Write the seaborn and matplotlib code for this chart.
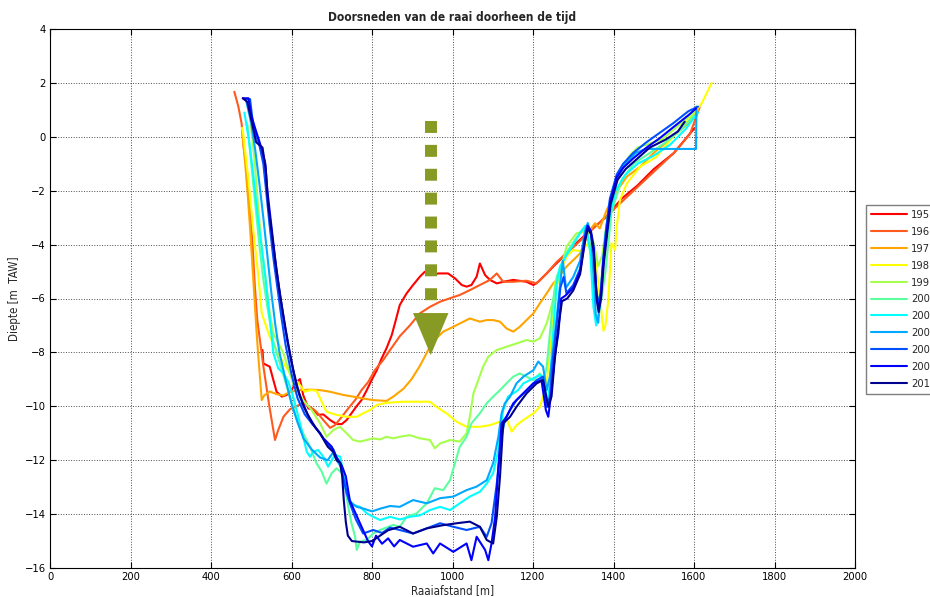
import numpy as np
import pandas as pd
import matplotlib
matplotlib.use("Agg")
import matplotlib.pyplot as plt
import seaborn as sns

# dwarsprofielen (afstand [m], diepte [m TAW])
p195 = [(528,-7.91),(530,-8.41),(546,-8.53),(555,-9.03),(563,-9.46),(576,-9.64),(588,-9.58),(600,-9.40),(612,-9.1),(621,-8.99),
        (629,-9.58),(642,-10.08),(654,-10.11),(666,-10.32),(679,-10.30),(696,-10.51),(712,-10.66),(725,-10.66),(737,-10.51),(749,-10.26),
        (762,-9.99),(774,-9.77),(787,-9.40),(799,-9.03),(812,-8.66),(824,-8.22),(836,-7.85),(849,-7.36),(857,-6.92),(869,-6.24),
        (886,-5.81),(902,-5.50),(919,-5.19),(931,-5.01),(948,-5.13),(965,-5.07),(989,-5.07),(1006,-5.25),(1023,-5.50),(1035,-5.56),
        (1047,-5.50),(1060,-5.19),(1068,-4.70),(1081,-5.13),(1093,-5.31),(1110,-5.44),(1126,-5.38),(1151,-5.31),(1184,-5.38),(1201,-5.50),
        (1213,-5.38),(1234,-5.07),(1254,-4.76),(1267,-4.57),(1300,-4.05),(1340,-3.5),(1380,-3.0),(1420,-2.3),(1460,-1.8),(1500,-1.2),
        (1550,-0.6),(1600,0.3)]
p196 = [(458,1.67),(468,1.12),(476,0.5),(481,-0.37),(490,-1.36),(497,-2.59),(501,-3.46),(505,-4.45),(509,-5.56),(515,-6.8),
        (530,-8.5),(545,-10.0),(559,-11.25),(567,-10.88),(580,-10.39),(596,-10.11),(613,-9.99),(629,-9.89),(646,-10.02),(662,-10.2),
        (679,-10.51),(696,-10.8),(708,-10.7),(725,-10.39),(741,-10.08),(758,-9.77),(774,-9.4),(791,-9.09),(807,-8.66),(828,-8.28),
        (845,-7.91),(869,-7.4),(894,-7.0),(919,-6.55),(944,-6.31),(969,-6.12),(994,-5.99),(1018,-5.87),(1043,-5.69),(1068,-5.5),
        (1093,-5.31),(1110,-5.07),(1126,-5.38),(1151,-5.38),(1184,-5.34),(1209,-5.44),(1234,-5.07),(1259,-4.64),(1300,-4.1),(1350,-3.4),
        (1400,-2.7),(1450,-2.0),(1500,-1.3),(1550,-0.6),(1590,0.1),(1614,1.1)]
p197 = [(478,0.1),(485,-1.0),(492,-2.3),(498,-3.6),(503,-4.8),(508,-6.0),(513,-7.2),(517,-8.03),(522,-9.0),(526,-9.77),
        (532,-9.6),(546,-9.45),(563,-9.55),(580,-9.6),(596,-9.46),(621,-9.4),(646,-9.38),(671,-9.4),(696,-9.46),(729,-9.58),
        (753,-9.64),(778,-9.71),(803,-9.77),(836,-9.8),(853,-9.64),(878,-9.35),(898,-9.0),(919,-8.5),(944,-7.79),(960,-7.48),
        (977,-7.23),(1002,-7.05),(1027,-6.86),(1043,-6.74),(1068,-6.86),(1085,-6.8),(1101,-6.8),(1118,-6.86),(1134,-7.11),(1151,-7.23),
        (1167,-7.05),(1184,-6.8),(1201,-6.55),(1217,-6.18),(1234,-5.81),(1250,-5.44),(1259,-5.31),(1283,-4.82),(1317,-4.33),(1341,-3.46),
        (1354,-3.21),(1366,-3.4),(1383,-2.72),(1399,-2.22),(1433,-1.48),(1466,-1.11),(1499,-0.61),(1548,0.01),(1586,0.5),(1610,1.0)]
p198 = [(477,0.33),(480,0.13),(493,-1.6),(505,-3.46),(517,-5.07),(526,-6.55),(534,-6.9),(546,-7.42),(571,-8.16),(596,-8.78),
        (621,-9.21),(633,-9.46),(646,-9.4),(662,-9.42),(675,-9.83),(687,-10.2),(712,-10.32),(737,-10.39),(762,-10.39),(778,-10.26),
        (795,-10.14),(812,-9.95),(836,-9.87),(878,-9.83),(919,-9.83),(944,-9.83),(960,-10.02),(985,-10.26),(1010,-10.57),(1035,-10.76),
        (1068,-10.76),(1093,-10.7),(1118,-10.57),(1134,-10.45),(1147,-10.94),(1159,-10.7),(1176,-10.51),(1201,-10.26),(1217,-10.02),(1225,-9.64),
        (1234,-9.15),(1242,-7.91),(1250,-6.68),(1254,-5.44),(1259,-5.31),(1283,-4.45),(1300,-4.2),(1320,-4.25),(1340,-3.9),(1355,-4.5),
        (1365,-5.8),(1375,-7.2),(1380,-7.0),(1387,-6.06),(1395,-3.95),(1404,-4.2),(1408,-3.34),(1416,-2.35),(1433,-1.73),(1466,-1.11),
        (1507,-0.74),(1548,0.01),(1586,0.62),(1619,1.24),(1644,2.0)]
p199 = [(497,0.75),(509,-0.98),(517,-2.59),(526,-4.08),(538,-5.56),(546,-6.55),(555,-7.3),(580,-8.03),(604,-9.15),(629,-9.77),
        (650,-10.14),(671,-10.63),(687,-11.13),(704,-10.88),(720,-10.76),(737,-11.0),(753,-11.25),(770,-11.31),(787,-11.25),(803,-11.19),
        (820,-11.23),(836,-11.13),(853,-11.19),(869,-11.13),(894,-11.07),(919,-11.19),(944,-11.25),(956,-11.56),(969,-11.38),(994,-11.25),
        (1018,-11.31),(1035,-11.0),(1043,-10.39),(1052,-9.52),(1064,-9.03),(1076,-8.53),(1089,-8.16),(1110,-7.91),(1134,-7.79),(1159,-7.67),
        (1184,-7.54),(1201,-7.6),(1217,-7.48),(1234,-6.92),(1250,-6.06),(1259,-5.56),(1283,-4.08),(1308,-3.58),(1325,-3.52),(1340,-3.4),
        (1352,-4.0),(1362,-4.8),(1372,-4.4),(1385,-3.0),(1400,-2.0),(1420,-1.2),(1440,-0.7),(1460,-0.4),(1490,-0.25),(1520,-0.1),
        (1560,0.4),(1600,0.9)]
p200a = [(490,0.5),(500,-1.0),(510,-2.5),(520,-4.0),(530,-5.3),(540,-6.3),(555,-7.6),(575,-8.6),(595,-9.6),(612,-10.4),
         (629,-11.0),(646,-11.5),(662,-12.11),(675,-12.42),(687,-12.87),(700,-12.48),(712,-12.3),(725,-12.48),(733,-12.98),(741,-13.73),
         (749,-14.34),(758,-14.84),(762,-15.33),(770,-15.02),(787,-14.96),(803,-14.72),(820,-14.59),(836,-14.5),(853,-14.4),(869,-14.47),
         (886,-14.1),(911,-13.97),(936,-13.6),(956,-13.04),(977,-13.11),(994,-12.74),(1006,-12.12),(1018,-11.5),(1035,-11.13),(1047,-10.63),
         (1068,-10.26),(1085,-9.89),(1101,-9.64),(1118,-9.4),(1134,-9.15),(1151,-8.9),(1167,-8.78),(1184,-8.9),(1201,-9.03),(1217,-8.78),
         (1225,-9.15),(1234,-8.53),(1242,-7.29),(1250,-6.06),(1259,-5.19),(1283,-4.3),(1310,-3.7),(1330,-3.3),(1345,-4.5),(1358,-5.8),
         (1368,-6.2),(1380,-5.0),(1395,-2.8),(1420,-1.6),(1450,-1.0),(1490,-0.6),(1530,-0.2),(1570,0.3),(1600,0.8)]
p200b = [(483,0.9),(495,-0.2),(505,-1.4),(515,-2.8),(525,-4.0),(535,-5.2),(545,-6.6),(555,-8.03),(567,-8.59),(580,-8.78),
         (592,-9.09),(604,-9.64),(617,-10.39),(629,-11.13),(638,-11.69),(646,-11.87),(654,-11.69),(666,-11.62),(679,-11.87),(691,-12.24),
         (700,-12.0),(708,-11.81),(721,-11.87),(729,-12.48),(737,-13.11),(745,-13.48),(753,-13.66),(770,-13.73),(787,-13.97),(803,-14.1),
         (820,-14.22),(845,-14.1),(869,-14.2),(894,-14.1),(919,-14.05),(944,-13.85),(969,-13.73),(994,-13.85),(1018,-13.6),(1043,-13.35),
         (1068,-13.17),(1085,-12.87),(1101,-12.48),(1114,-11.62),(1118,-10.88),(1126,-10.14),(1138,-9.64),(1151,-9.52),(1163,-9.4),(1176,-9.15),
         (1192,-9.03),(1209,-8.9),(1221,-8.84),(1230,-9.27),(1235,-10.02),(1242,-9.15),(1250,-7.29),(1259,-5.44),(1267,-4.82),(1283,-4.4),
         (1300,-4.0),(1320,-3.5),(1332,-3.3),(1342,-4.2),(1350,-6.3),(1357,-7.0),(1365,-6.4),(1375,-4.5),(1390,-3.0),(1405,-2.0),
         (1430,-1.4),(1460,-1.0),(1500,-0.7),(1540,-0.3),(1580,0.3),(1610,0.9)]
p200c = [(488,1.3),(500,0.5),(510,-0.5),(520,-1.7),(530,-3.0),(540,-4.4),(550,-5.8),(560,-7.0),(570,-8.0),(585,-9.0),
         (600,-9.9),(615,-10.6),(630,-11.2),(650,-11.6),(671,-11.9),(690,-12.0),(704,-11.7),(712,-12.0),(721,-12.2),(729,-12.61),
         (737,-13.23),(745,-13.54),(762,-13.73),(780,-13.8),(800,-13.9),(820,-13.8),(845,-13.7),(869,-13.73),(902,-13.48),(936,-13.6),
         (969,-13.41),(1002,-13.35),(1035,-13.11),(1060,-12.98),(1085,-12.74),(1101,-12.11),(1114,-11.13),(1122,-10.26),(1130,-9.89),(1143,-9.64),
         (1159,-9.15),(1176,-8.9),(1201,-8.66),(1213,-8.34),(1225,-8.53),(1234,-9.4),(1242,-8.9),(1250,-7.91),(1259,-6.68),(1267,-5.5),
         (1274,-4.6),(1282,-5.6),(1300,-5.2),(1317,-4.6),(1329,-3.5),(1336,-3.2),(1344,-3.6),(1350,-5.0),(1356,-6.6),(1362,-6.9),
         (1370,-5.5),(1380,-3.6),(1392,-2.3),(1410,-1.5),(1430,-1.0),(1455,-0.6),(1480,-0.45),(1605,-0.45),(1606,1.12)]
p200d = [(485,1.4),(497,1.4),(505,0.4),(520,-0.3),(530,-1.0),(537,-2.0),(545,-3.2),(555,-4.5),(565,-5.6),(575,-6.7),
         (585,-7.7),(600,-8.8),(615,-9.7),(633,-10.3),(654,-10.7),(671,-11.0),(687,-11.4),(704,-11.6),(712,-11.9),(721,-12.1),
         (729,-12.7),(737,-13.2),(745,-13.6),(760,-14.2),(778,-14.72),(803,-14.59),(825,-14.7),(845,-14.5),(869,-14.59),(902,-14.72),
         (936,-14.53),(969,-14.34),(1002,-14.47),(1035,-14.59),(1068,-14.47),(1085,-14.84),(1097,-14.34),(1110,-12.87),(1122,-11.13),(1130,-10.51),
         (1143,-10.14),(1159,-9.77),(1184,-9.4),(1209,-9.03),(1225,-8.9),(1234,-10.02),(1242,-9.64),(1250,-8.16),(1259,-6.92),(1268,-5.6),
         (1276,-5.2),(1283,-5.8),(1300,-5.5),(1317,-4.9),(1329,-3.7),(1335,-3.3),(1343,-3.5),(1350,-4.2),(1358,-5.8),(1362,-6.2),
         (1368,-5.8),(1374,-4.6),(1383,-3.3),(1391,-2.3),(1408,-1.4),(1424,-1.0),(1449,-0.6),(1482,-0.2),(1515,0.15),(1548,0.5),
         (1586,0.95),(1610,1.12)]
p200e = [(479,1.43),(493,1.43),(500,0.8),(510,0.3),(525,-0.4),(535,-1.0),(540,-2.0),(550,-3.3),(560,-4.6),(570,-5.7),
         (580,-6.7),(590,-7.6),(605,-8.7),(620,-9.6),(640,-10.3),(660,-10.8),(680,-11.2),(700,-11.5),(712,-11.9),(725,-12.2),
         (735,-12.6),(745,-13.5),(760,-14.0),(775,-14.5),(790,-15.0),(800,-15.2),(810,-14.8),(825,-15.1),(840,-14.9),(855,-15.2),
         (869,-14.96),(902,-15.21),(936,-15.09),(952,-15.46),(969,-15.09),(1002,-15.4),(1035,-15.09),(1047,-15.71),(1060,-14.84),(1081,-15.33),
         (1089,-15.71),(1097,-15.09),(1106,-14.1),(1114,-12.24),(1122,-10.63),(1134,-10.39),(1151,-9.89),(1176,-9.52),(1201,-9.15),(1221,-9.03),
         (1232,-10.14),(1238,-10.39),(1246,-9.4),(1254,-8.16),(1263,-7.29),(1270,-6.0),(1280,-5.9),(1300,-5.6),(1317,-5.0),(1329,-3.8),
         (1336,-3.3),(1344,-3.5),(1351,-4.1),(1358,-5.9),(1363,-6.4),(1369,-5.9),(1375,-4.6),(1384,-3.4),(1392,-2.4),(1408,-1.5),
         (1424,-1.15),(1449,-0.8),(1482,-0.4),(1515,-0.05),(1548,0.35),(1586,0.8),(1605,1.05)]
p201 = [(479,1.43),(490,1.3),(505,0.3),(512,-0.2),(528,-0.4),(536,-1.2),(542,-2.5),(553,-3.8),(563,-5.0),(573,-6.0),
        (585,-7.1),(598,-8.2),(612,-9.2),(630,-10.0),(650,-10.6),(671,-11.0),(690,-11.5),(704,-11.7),(712,-12.0),(721,-12.1),
        (726,-12.6),(730,-13.5),(735,-14.3),(740,-14.8),(750,-15.0),(780,-15.05),(800,-15.0),(820,-14.8),(840,-14.6),(869,-14.47),
        (902,-14.72),(936,-14.53),(977,-14.41),(1010,-14.34),(1043,-14.28),(1068,-14.47),(1085,-14.96),(1101,-15.09),(1110,-14.1),(1118,-12.61),
        (1126,-10.63),(1143,-10.39),(1159,-10.02),(1184,-9.52),(1209,-9.15),(1225,-9.03),(1238,-10.02),(1246,-9.64),(1254,-8.28),(1263,-7.05),
        (1272,-6.1),(1285,-6.0),(1300,-5.7),(1317,-5.1),(1329,-3.9),(1336,-3.4),(1344,-3.6),(1351,-4.3),(1358,-6.0),(1363,-6.5),
        (1369,-6.0),(1376,-4.7),(1385,-3.5),(1393,-2.5),(1410,-1.6),(1430,-1.2),(1460,-0.8),(1490,-0.4),(1530,-0.1),(1560,0.2),
        (1577,0.56)]

profielen = [p195, p196, p197, p198, p199, p200a, p200b, p200c, p200d, p200e, p201]
labels = ["195", "196", "197", "198", "199", "200", "200", "200", "200", "200", "201"]
colors = ["#ff0000", "#ff5a1e", "#ffa500", "#ffff00", "#a6ff4d", "#5cffa0",
          "#00ffff", "#00a8ff", "#0050ff", "#0000ff", "#00008f"]

# pijl (erosie in de tijd)
arrow_x = 946
arrow_top, arrow_dash_end = 0.59, -6.09
head_top, head_tip, head_half = -6.54, -8.10, 44
olive = "#879a23"

sns.set_style("ticks")
plt.rcParams["font.family"] = ["DejaVu Sans"]
plt.rcParams["font.stretch"] = "condensed"
plt.rcParams["font.size"] = 8

fig = plt.figure(figsize=(9.3, 5.97), dpi=100)
ax = fig.add_axes([50/930, 29/597, 805/930, 539/597])

for pts, lab, col in zip(profielen, labels, colors):
    df = pd.DataFrame(pts, columns=["afstand", "diepte"])
    sns.lineplot(data=df, x="afstand", y="diepte", sort=False, estimator=None,
                 color=col, lw=1.5, label=lab, ax=ax)

ax.plot([arrow_x, arrow_x], [arrow_top, arrow_dash_end], color=olive, lw=8.6,
        dashes=(1, 1), dash_capstyle="butt", solid_capstyle="butt", zorder=5)
ax.fill([arrow_x - head_half, arrow_x + head_half, arrow_x], [head_top, head_top, head_tip],
        color=olive, lw=0, zorder=5)

ax.set_xlim(0, 2000)
ax.set_ylim(-16, 4)
ax.set_xticks(np.arange(0, 2001, 200))
ax.set_yticks(np.arange(-16, 5, 2))
ax.grid(True, linestyle=":", color="k", lw=0.7, alpha=0.7)
ax.tick_params(direction="in", top=True, right=True, length=4, width=0.8,
               labelsize=8, colors="k", pad=3)
for s in ax.spines.values():
    s.set_color("k")
    s.set_linewidth(0.8)

ax.set_title("Doorsneden van de raai doorheen de tijd", fontweight="bold", fontsize=8.6, pad=6)
ax.set_xlabel("Raaiafstand [m]", fontsize=8.3, labelpad=1)
ax.set_ylabel("Diepte [m  TAW]", fontsize=8.3, labelpad=3)

ax.legend(loc="upper left", bbox_to_anchor=(1.0137, 0.6735), frameon=True, fancybox=False,
          edgecolor="#7f7f7f", framealpha=1, handlelength=3.2, handletextpad=0.4,
          labelspacing=0.62, borderpad=0.45, borderaxespad=0, fontsize=8)

fig.savefig("out.png", dpi=100, facecolor="white")
